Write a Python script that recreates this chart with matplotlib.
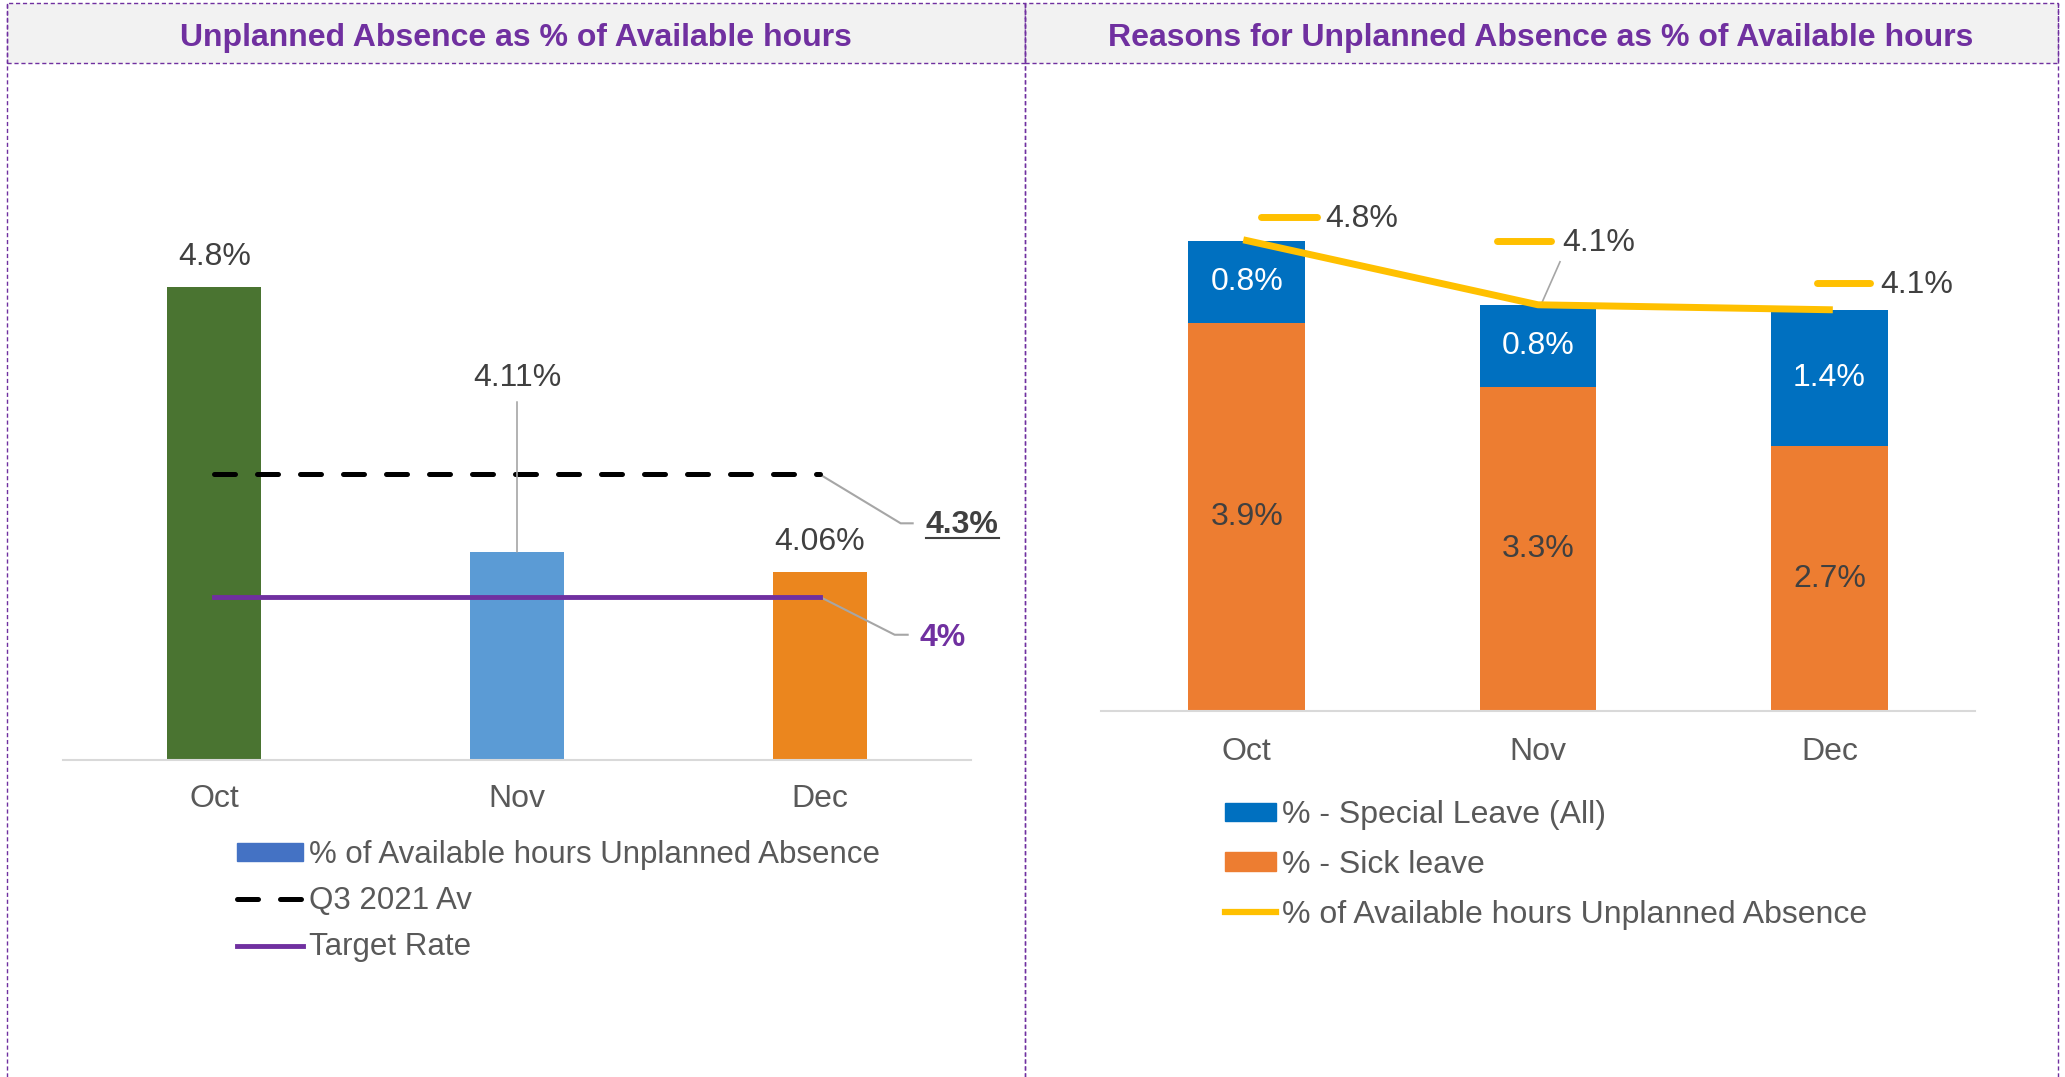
import matplotlib.pyplot as plt
import matplotlib.transforms as mtransforms
from matplotlib.patches import Rectangle, Patch
from matplotlib.lines import Line2D

plt.rcParams['font.family'] = ['Liberation Sans', 'DejaVu Sans']

# data
months = ['Oct', 'Nov', 'Dec']
unplanned = [4.76, 4.11, 4.06]
unplanned_labels = ['4.8%', '4.11%', '4.06%']
q3_avg = 4.3
target_rate = 4.0
special_leave = [0.83, 0.83, 1.38]
sick_leave = [3.93, 3.28, 2.68]
special_labels = ['0.8%', '0.8%', '1.4%']
sick_labels = ['3.9%', '3.3%', '2.7%']
total_labels = ['4.8%', '4.1%', '4.1%']

W, H = 2065, 1077
PURPLE = '#7030A0'
GREY_TXT = '#404040'
LEG_TXT = '#595959'
LEADER = '#A6A6A6'
FS = 23

fig = plt.figure(figsize=(W / 100, H / 100), dpi=100)


def box(x0, y0, x1, y1):
    # pixel box (top-left origin) -> figure fraction rect
    return [x0 / W, 1 - y1 / H, (x1 - x0) / W, (y1 - y0) / H]


def anchor(ax, x, y):
    X, Y = ax.transData.transform((x, y))
    return mtransforms.Affine2D().translate(X, Y)


# panel frames and header bands
for x0, x1, title, tx in [(7, 1025, 'Unplanned Absence as % of Available hours', 516),
                          (1025, 2058, 'Reasons for Unplanned Absence as % of Available hours', 1541)]:
    fig.add_artist(Rectangle((x0 / W, 1 - 63 / H), (x1 - x0) / W, 60 / H,
                             transform=fig.transFigure, facecolor='#F2F2F2',
                             edgecolor=PURPLE, lw=1, ls=(0, (3, 2))))
    for xx in (x0, x1):
        fig.add_artist(Line2D([xx / W, xx / W], [0, 1 - 3 / H], transform=fig.transFigure,
                              color=PURPLE, lw=1, ls=(0, (3, 2))))
    fig.text(tx / W, 1 - 38 / H, title, ha='center', va='center', fontsize=FS,
             fontweight='bold', color=PURPLE)

x = range(len(months))

# ---------------- left chart ----------------
ax1 = fig.add_axes(box(63, 107, 971, 760))
ax1.bar(x, unplanned, width=0.31, color=['#4A7431', '#5B9BD5', '#EB861E'], zorder=2)
ax1.plot([0, 2], [q3_avg, q3_avg], color='black', lw=3.6, ls=(0, (4.2, 4.4)),
         dash_capstyle='round', zorder=3)
ax1.plot([0, 2], [target_rate, target_rate], color=PURPLE, lw=3.5, zorder=3)
ax1.set_xlim(-0.5, 2.5)
ax1.set_ylim(3.6, 5.2)

for i, (v, lab) in enumerate(zip(unplanned, unplanned_labels)):
    off = 174 if i == 1 else 30
    ax1.annotate(lab, xy=(i, v), xytext=(0, off), textcoords='offset pixels',
                 ha='center', va='center', fontsize=FS, color=GREY_TXT)
# Nov leader line
ax1.annotate('', xy=(1, unplanned[1]), xytext=(0, 150), textcoords='offset pixels',
             arrowprops=dict(arrowstyle='-', color=LEADER, lw=1.2, shrinkA=0, shrinkB=0))

# callouts for the reference lines
t43 = ax1.annotate('4.3%', xy=(2, q3_avg), xytext=(106, -51), textcoords='offset pixels',
                   ha='left', va='center', fontsize=FS, fontweight='bold', color=GREY_TXT)
ax1.add_line(Line2D([0, 81, 93], [0, -49, -49], color=LEADER, lw=1.5,
                    transform=anchor(ax1, 2, q3_avg)))
ax1.annotate('4%', xy=(2, target_rate), xytext=(100, -41), textcoords='offset pixels',
             ha='left', va='center', fontsize=FS, fontweight='bold', color=PURPLE)
ax1.add_line(Line2D([0, 75, 88], [0, -38, -38], color=LEADER, lw=1.5,
                    transform=anchor(ax1, 2, target_rate)))

# ---------------- right chart ----------------
ax2 = fig.add_axes(box(1101, 118, 1975, 711))
b_sick = ax2.bar(x, sick_leave, width=0.40, color='#ED7D31', zorder=2)
b_spec = ax2.bar(x, special_leave, bottom=sick_leave, width=0.40, color='#0070C0', zorder=2)
ax2.bar_label(b_sick, labels=sick_labels, label_type='center', fontsize=FS, color=GREY_TXT)
ax2.bar_label(b_spec, labels=special_labels, label_type='center', fontsize=FS, color='white')
ax2.plot(x, unplanned, color='#FFC000', lw=5, zorder=3)
ax2.set_xlim(-0.5, 2.5)
ax2.set_ylim(0, 6)

key_pos = [(14, 70, 24, 79), (-41, 13, 64, 24), (-12, 41, 27, 51)]
for i, (v, lab) in enumerate(zip(unplanned, total_labels)):
    k0, k1, dy, tx = key_pos[i]
    ax2.add_line(Line2D([k0, k1], [dy, dy], color='#FFC000', lw=5,
                        solid_capstyle='round', transform=anchor(ax2, i, v)))
    ax2.annotate(lab, xy=(i, v), xytext=(tx, dy - 2), textcoords='offset pixels',
                 ha='left', va='center', fontsize=FS, color=GREY_TXT)
ax2.add_line(Line2D([22, 3], [43, 0], color=LEADER, lw=1.2,
                    transform=anchor(ax2, 1, unplanned[1])))

for ax in (ax1, ax2):
    for s in ('top', 'left', 'right'):
        ax.spines[s].set_visible(False)
    ax.spines['bottom'].set_color('#D9D9D9')
    ax.spines['bottom'].set_linewidth(1.5)
    ax.set_yticks([])
    ax.set_xticks(list(x))
    ax.set_xticklabels(months)
    ax.set_facecolor('none')
ax1.tick_params(axis='x', length=0, pad=17, labelsize=FS, labelcolor=LEG_TXT)
ax2.tick_params(axis='x', length=0, pad=19, labelsize=FS, labelcolor=LEG_TXT)

# legends
h1 = [Patch(color='#4472C4'),
      Line2D([], [], color='black', lw=3.6, ls=(0, (4.2, 4.4)), dash_capstyle='round'),
      Line2D([], [], color=PURPLE, lw=3.5)]
fig.legend(h1, ['% of Available hours Unplanned Absence', 'Q3 2021 Av', 'Target Rate'],
           loc='upper left', bbox_to_anchor=(237 / W, 1 - 840 / H), frameon=False,
           fontsize=22.5, labelcolor=LEG_TXT, borderpad=0, borderaxespad=0,
           handlelength=2.1, handletextpad=0.2, labelspacing=0.52, handleheight=0.5)
h2 = [Patch(color='#0070C0'), Patch(color='#ED7D31'), Line2D([], [], color='#FFC000', lw=4.5)]
fig.legend(h2, ['% - Special Leave (All)', '% - Sick leave', '% of Available hours Unplanned Absence'],
           loc='upper left', bbox_to_anchor=(1225 / W, 1 - 800 / H), frameon=False,
           fontsize=FS, labelcolor=LEG_TXT, borderpad=0, borderaxespad=0,
           handlelength=1.6, handletextpad=0.2, labelspacing=0.62, handleheight=0.5)

# underline the Q3 average callout
fig.canvas.draw()
bb = t43.get_window_extent()
fig.add_artist(Line2D([bb.x0 / W, bb.x1 / W], [(bb.y0 + 2) / H] * 2,
                      transform=fig.transFigure, color=GREY_TXT, lw=1.5))

fig.savefig('out.png', dpi=100)
